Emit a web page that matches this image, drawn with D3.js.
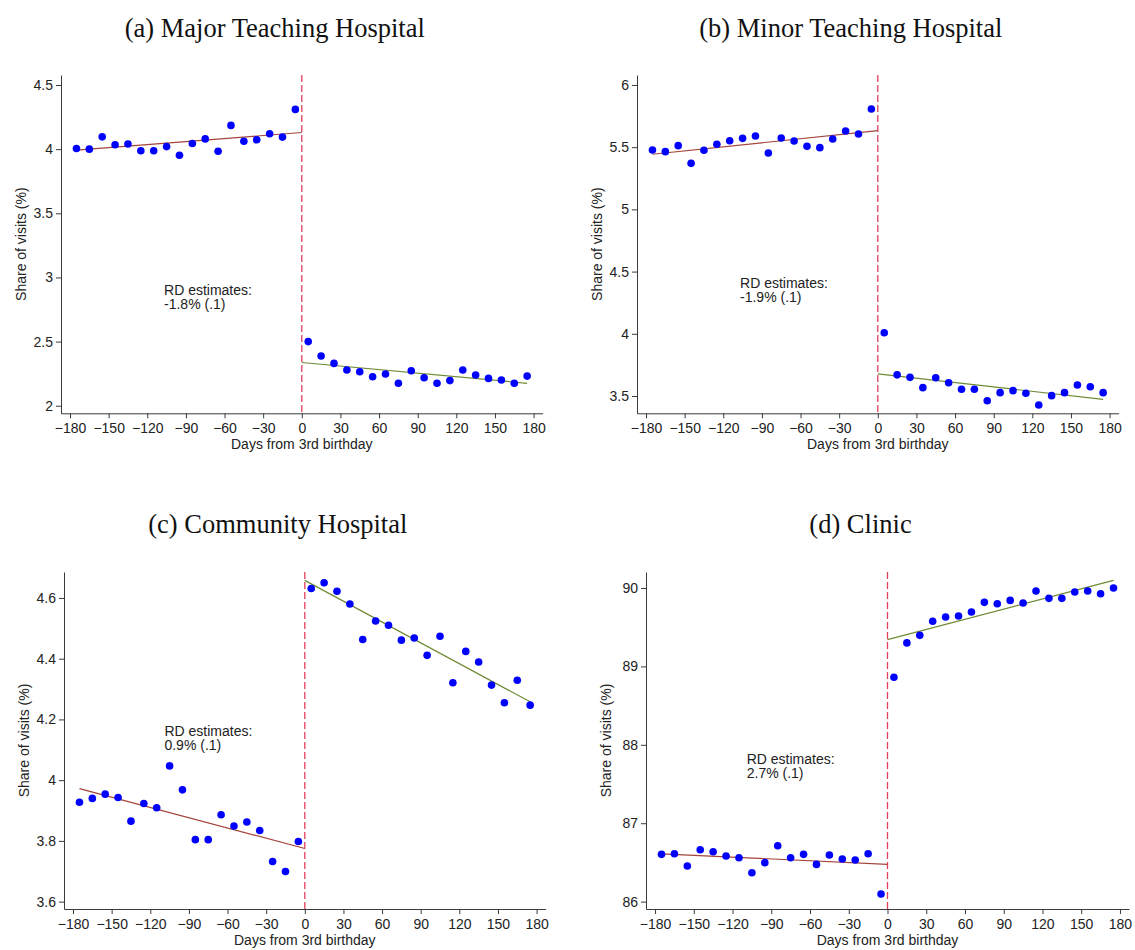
<!DOCTYPE html>
<html>
<head>
<meta charset="utf-8">
<script src="https://cdn.jsdelivr.net/npm/d3@7"></script>
<style>
  html, body { margin: 0; padding: 0; background: #fff; }
  svg { display: block; }
</style>
</head>
<body>
<svg id="chart" width="1135" height="950"></svg>
<script>
// Bin midpoints (days from 3rd birthday), 10-day bins on each side of the cutoff
const daysBefore = [-175, -165, -155, -145, -135, -125, -115, -105, -95, -85, -75, -65, -55, -45, -35, -25, -15, -5];
const daysAfter  = [5, 15, 25, 35, 45, 55, 65, 75, 85, 95, 105, 115, 125, 135, 145, 155, 165, 175];
const xTicks = [-180, -150, -120, -90, -60, -30, 0, 30, 60, 90, 120, 150, 180];

// (a) Major teaching hospital — share of visits (%)
const majorBefore = [4.005, 4.00, 4.096, 4.034, 4.04, 3.987, 3.987, 4.02, 3.953, 4.044, 4.08, 3.984, 4.185, 4.062, 4.073, 4.12, 4.094, 4.31];
const majorAfter  = [2.50, 2.388, 2.33, 2.278, 2.265, 2.226, 2.247, 2.175, 2.273, 2.218, 2.175, 2.196, 2.278, 2.239, 2.213, 2.20, 2.175, 2.231];
const majorFitBefore = [3.992, 4.13];   // fitted value at -175 and 0
const majorFitAfter  = [2.337, 2.175];  // fitted value at 0 and 175
const majorYTicks = [2, 2.5, 3, 3.5, 4, 4.5];

// (b) Minor teaching hospital
const minorBefore = [5.477, 5.464, 5.512, 5.37, 5.475, 5.523, 5.552, 5.571, 5.59, 5.453, 5.574, 5.55, 5.507, 5.496, 5.566, 5.63, 5.606, 5.807];
const minorAfter  = [4.009, 3.67, 3.65, 3.567, 3.647, 3.607, 3.554, 3.554, 3.462, 3.527, 3.543, 3.522, 3.428, 3.503, 3.527, 3.588, 3.574, 3.527];
const minorFitBefore = [5.443, 5.633];
const minorFitAfter  = [3.678, 3.473];
const minorYTicks = [3.5, 4, 4.5, 5, 5.5, 6];

// (c) Community hospital
const communityBefore = [3.927, 3.94, 3.954, 3.943, 3.865, 3.923, 3.909, 4.047, 3.968, 3.804, 3.804, 3.886, 3.849, 3.862, 3.834, 3.732, 3.699, 3.798];
const communityAfter  = [4.631, 4.65, 4.622, 4.58, 4.463, 4.524, 4.51, 4.461, 4.468, 4.411, 4.474, 4.321, 4.424, 4.389, 4.313, 4.255, 4.329, 4.247];
const communityFitBefore = [3.972, 3.775];
const communityFitAfter  = [4.658, 4.258];
const communityYTicks = [3.6, 3.8, 4, 4.2, 4.4, 4.6];

// (d) Clinic
const clinicBefore = [86.603, 86.611, 86.454, 86.662, 86.637, 86.581, 86.56, 86.369, 86.497, 86.713, 86.56, 86.603, 86.475, 86.594, 86.543, 86.53, 86.611, 86.097];
const clinicAfter  = [88.861, 89.30, 89.396, 89.575, 89.63, 89.643, 89.694, 89.817, 89.80, 89.842, 89.809, 89.962, 89.868, 89.868, 89.949, 89.962, 89.927, 90.0];
const clinicFitBefore = [86.61, 86.475];
const clinicFitAfter  = [89.341, 90.097];
const clinicYTicks = [86, 87, 88, 89, 90];

const panelTitles = ["(a) Major Teaching Hospital", "(b) Minor Teaching Hospital", "(c) Community Hospital", "(d) Clinic"];
const rdLabels = [["RD estimates:", "-1.8% (.1)"], ["RD estimates:", "-1.9% (.1)"], ["RD estimates:", "0.9% (.1)"], ["RD estimates:", "2.7% (.1)"]];

const panels = [
  { title: panelTitles[0], before: majorBefore, after: majorAfter, fitB: majorFitBefore, fitA: majorFitAfter, yTicks: majorYTicks, rd: rdLabels[0],
    box: { left: 61, right: 542.6, top: 75, bottom: 413.3 }, yDomain: [1.941, 4.578], rdAt: [-107, 2.86], titleY: 37 },
  { title: panelTitles[1], before: minorBefore, after: minorAfter, fitB: minorFitBefore, fitA: minorFitAfter, yTicks: minorYTicks, rd: rdLabels[1],
    box: { left: 637, right: 1118.6, top: 75, bottom: 413.3 }, yDomain: [3.361, 6.080], rdAt: [-107, 4.37], titleY: 37 },
  { title: panelTitles[2], before: communityBefore, after: communityAfter, fitB: communityFitBefore, fitA: communityFitAfter, yTicks: communityYTicks, rd: rdLabels[2],
    box: { left: 64, right: 545.6, top: 572, bottom: 909 }, yDomain: [3.5757, 4.6855], rdAt: [-109, 4.145], titleY: 533 },
  { title: panelTitles[3], before: clinicBefore, after: clinicAfter, fitB: clinicFitBefore, fitA: clinicFitAfter, yTicks: clinicYTicks, rd: rdLabels[3],
    box: { left: 646, right: 1129, top: 572, bottom: 909 }, yDomain: [85.906, 90.204], rdAt: [-109, 87.76], titleY: 533 }
];

const svg = d3.select("#chart");
svg.append("rect").attr("width", 1135).attr("height", 950).attr("fill", "#fff");

const sansFont = "'Liberation Sans', Arial, sans-serif";
const serifFont = "'Liberation Serif', 'Times New Roman', serif";
const axisColor = "#3a3a3a";
const textColor = "#222";
const fontSize = 14;

panels.forEach(p => {
  const g = svg.append("g");
  const x = d3.scaleLinear().domain([-187, 187]).range([p.box.left, p.box.right]);
  const y = d3.scaleLinear().domain(p.yDomain).range([p.box.bottom, p.box.top]);

  // Panel title, centred over the whole panel including the y-axis title
  svg.append("text")
    .attr("x", x(0) - 27)
    .attr("y", p.titleY)
    .attr("text-anchor", "middle")
    .attr("font-family", serifFont)
    .attr("font-size", 26.5)
    .attr("fill", "#111")
    .text(p.title);

  // Y axis
  const yAxis = g.append("g")
    .attr("transform", `translate(${p.box.left},0)`)
    .call(d3.axisLeft(y).tickValues(p.yTicks).tickFormat(d3.format("~g")).tickSize(5).tickPadding(3).tickSizeOuter(0));
  yAxis.select(".domain").attr("stroke", axisColor);
  yAxis.selectAll(".tick line").attr("stroke", axisColor);
  yAxis.selectAll(".tick text").attr("font-family", sansFont).attr("font-size", fontSize).attr("fill", textColor);

  // X axis
  const xAxis = g.append("g")
    .attr("transform", `translate(0,${p.box.bottom})`)
    .call(d3.axisBottom(x).tickValues(xTicks).tickFormat(d3.format("d")).tickSize(5).tickPadding(5).tickSizeOuter(0));
  xAxis.select(".domain").attr("stroke", axisColor);
  xAxis.selectAll(".tick line").attr("stroke", axisColor);
  xAxis.selectAll(".tick text").attr("font-family", sansFont).attr("font-size", fontSize).attr("fill", textColor);

  // Axis titles
  g.append("text")
    .attr("x", x(0))
    .attr("y", p.box.bottom + 36)
    .attr("text-anchor", "middle")
    .attr("font-family", sansFont)
    .attr("font-size", fontSize)
    .attr("fill", textColor)
    .text("Days from 3rd birthday");

  g.append("text")
    .attr("transform", `translate(${p.box.left - 40},${(p.box.top + p.box.bottom) / 2}) rotate(-90)`)
    .attr("text-anchor", "middle")
    .attr("dominant-baseline", "central")
    .attr("font-family", sansFont)
    .attr("font-size", fontSize)
    .attr("fill", textColor)
    .text("Share of visits (%)");

  // Cutoff at the 3rd birthday
  g.append("line")
    .attr("x1", x(0)).attr("x2", x(0))
    .attr("y1", p.box.top).attr("y2", p.box.bottom)
    .attr("stroke", "#e2405c")
    .attr("stroke-width", 1.3)
    .attr("stroke-dasharray", "7,3");

  // Linear fits on each side of the cutoff
  const line = d3.line().x(d => x(d[0])).y(d => y(d[1]));
  g.append("path")
    .attr("d", line([[daysBefore[0], p.fitB[0]], [0, p.fitB[1]]]))
    .attr("fill", "none").attr("stroke", "#a4443a").attr("stroke-width", 1.2);
  g.append("path")
    .attr("d", line([[0, p.fitA[0]], [daysAfter[daysAfter.length - 1], p.fitA[1]]]))
    .attr("fill", "none").attr("stroke", "#6f8a34").attr("stroke-width", 1.2);

  // Binned means
  const pts = daysBefore.map((d, i) => [d, p.before[i]]).concat(daysAfter.map((d, i) => [d, p.after[i]]));
  g.selectAll("circle.bin").data(pts).join("circle")
    .attr("class", "bin")
    .attr("cx", d => x(d[0]))
    .attr("cy", d => y(d[1]))
    .attr("r", 3.8)
    .attr("fill", "#0000ff");

  // RD estimate annotation
  const t = g.append("text")
    .attr("x", x(p.rdAt[0]))
    .attr("y", y(p.rdAt[1]))
    .attr("font-family", sansFont)
    .attr("font-size", fontSize)
    .attr("fill", textColor);
  t.append("tspan").attr("x", x(p.rdAt[0])).attr("dy", 0).text(p.rd[0]);
  t.append("tspan").attr("x", x(p.rdAt[0])).attr("dy", 14).text(p.rd[1]);
});
</script>
</body>
</html>
